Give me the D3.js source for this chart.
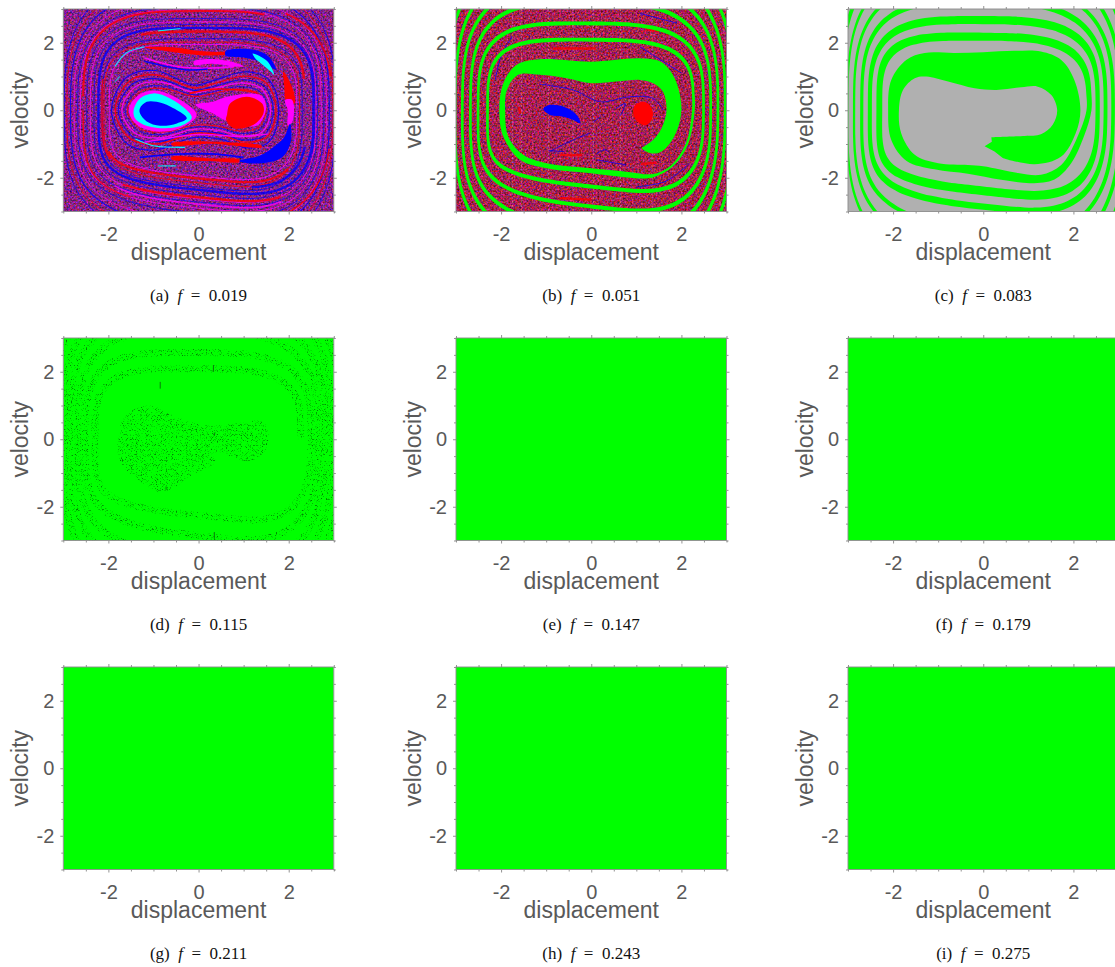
<!DOCTYPE html>
<html><head><meta charset="utf-8">
<script src="https://cdn.jsdelivr.net/npm/d3@7"></script>
<style>html,body{margin:0;padding:0;background:#fff;overflow:hidden}svg{display:block}</style>
</head><body><div id="chart"></div>
<script>
const panelLetters=["a","b","c","d","e","f","g","h","i"];
const forcing=["0.019","0.051","0.083","0.115","0.147","0.179","0.211","0.243","0.275"];
const majorTicks=[-2,0,2];
const minorTicks=[-3,-2.5,-1.5,-1,-0.5,0.5,1,1.5,2.5,3];
const GREEN="#00ff00",RED="#ff0000",BLUE="#0000ff",CYAN="#00ffff",MAG="#ff00ff",GRAY="#b0b0b0";

/* panel (c): first turn of the green spiral, edges */
const cOuter=[[0.44,-1.42],[1.14,-1.60],[1.73,-1.37],[2.05,-0.68],[2.155,0],[2.02,0.90],[1.73,1.49],[1.28,1.74],[0.69,1.76],[0,1.72],[-0.63,1.70],[-1.30,1.70],[-1.70,1.50],[-2.04,0.90],[-2.11,0],[-2.04,-0.88],[-1.70,-1.50],[-1.08,-1.75],[-0.34,-1.88],[0.40,-2.06],[1.06,-2.16],[1.58,-2.05],[1.95,-1.57],[2.24,-0.75]];
const cInner=[[0.18,-0.80],[0.92,-0.76],[1.28,-0.71],[1.54,-0.43],[1.64,0],[1.51,0.45],[1.21,0.70],[0.84,0.68],[0.29,0.60],[-0.19,0.65],[-0.78,0.85],[-1.26,1.0],[-1.52,0.95],[-1.78,0.60],[-1.87,0],[-1.82,-0.68],[-1.52,-1.32],[-1.0,-1.57],[-0.34,-1.62],[0,-1.66],[0.77,-1.86],[1.28,-1.91],[1.73,-1.62],[2.06,-0.88]];
const cTongueTip=[[0.18,-0.80],[0.19,-0.93],[0.03,-1.07],[0.25,-1.22],[0.44,-1.42]];
/* later turns: crossings of the spiral edges with y=0 (right, left, ...) and x=0 (bottom, top, ...) */
const cOuterX=[2.40,2.37,2.585,2.56,2.755,2.73,2.92,2.89,3.08,3.03,3.25,3.2];
const cOuterY=[1.88,2.30,2.52,2.79,2.95,3.3,3.6,3.75,4.3,4.3,4.9,4.8,5.3];
const cInnerX=[2.29,2.24,2.49,2.47,2.67,2.66,2.84,2.84,3.0,2.99,3.17,3.12];
const cInnerY=[1.66,2.06,2.26,2.55,2.76,3.13,3.5,3.65,4.2,4.2,4.8,4.7,5.2];
const cornerPower=[3.8,3.6,3.3,3.1,3,3,3];
const bottomTilt=0.14;

/* panel (b) */
const bInner=[[1.11,-1.12],[1.37,-0.88],[1.56,-0.53],[1.67,0],[1.59,0.55],[1.37,0.80],[1.08,0.90],[0.56,0.85],[0,0.80],[-0.55,0.95],[-1.14,1.05],[-1.62,1.05],[-1.87,0.60],[-1.91,0],[-1.84,-0.78],[-1.51,-1.32],[-0.99,-1.57],[0,-1.72],[0.78,-1.82],[1.37,-1.89],[1.74,-1.67],[2.1,-0.98]];
const bOuter=[[1.11,-1.12],[1.26,-1.25],[1.52,-1.25],[1.82,-0.83],[2.0,0],[1.85,0.95],[1.55,1.43],[1.07,1.54],[0,1.44],[-1.14,1.51],[-1.66,1.34],[-1.95,0.80],[-2.04,0],[-1.95,-0.78],[-1.58,-1.47],[-0.99,-1.72],[0,-1.87],[0.78,-1.99],[1.37,-1.99],[1.81,-1.67],[2.14,-1.03]];
const bCentreX=[2.265,2.30,2.49,2.51,2.65,2.68,2.81,2.86,2.97,3.02,3.15,3.2];
const bCentreY=[1.79,2.09,2.26,2.57,2.85,3.2,3.55,3.7,4.2,4.2,4.8,4.7,5.2];
const bBlueLobe=[[-1.06,0.06],[-0.91,0.16],[-0.62,0.11],[-0.32,-0.14],[-0.24,-0.39],[-0.4,-0.29],[-0.62,-0.19],[-0.91,-0.14],[-1.05,0]];
const bRedSpot=[[1.37,-0.09],[1.3,0.15],[1.15,0.25],[0.97,0.15],[0.93,-0.09],[1.0,-0.3],[1.2,-0.45],[1.33,-0.3]];
const bBlueArcs=[
 [[-1.13,0.77],[-0.4,0.6],[0.2,0.25],[0.85,0.4],[1.37,0.35],[1.6,0]],
 [[-0.92,-1.22],[-0.4,-0.88],[-0.03,-0.68]],
 [[0.12,-1.47],[0.78,-1.62]],
 [[0.1,-1.3],[0.3,-1.17],[0.4,-1.25]],
 [[-0.95,-1.2],[-0.6,-1.22]],
 [[1.0,-2.27],[1.66,-2.1],[2.18,-1.57]],
 [[-2.13,0.9],[-2.0,1.6],[-1.75,2.2]],
 [[1.08,2.87],[1.9,2.58]],
 [[1.08,1.88],[2.0,1.1]],
 [[0.55,0.05],[0.75,0.2],[0.65,-0.15]],
 [[0.05,-0.35],[0.2,-0.2]]];
const bRedSmudges=[[[-1.6,0.1],[-1.58,-0.1]],[[-0.7,-1.33],[-0.2,-1.33]],[[-1.43,-2.0],[-1.0,-2.1]],[[-0.7,-2.6],[0,-2.65]],[[-0.85,1.83],[0.1,1.83]],[[1.1,-1.6],[1.45,-1.55]],[[1.2,2.4],[1.5,2.35]]];
const bStreaks=[-1.75,-1.55,-0.95,-0.4,0.05,0.65,1.35,2.95];

/* panel (a) */
const aBlueLobe=[[-1.30,0.06],[-1.15,0.25],[-0.93,0.25],[-0.63,0.11],[-0.26,-0.24],[-0.48,-0.39],[-0.85,-0.46],[-1.15,-0.33],[-1.30,-0.09]];
const aCyanLobe=[[-1.44,0],[-1.30,0.35],[-1.0,0.50],[-0.63,0.35],[-0.26,0.0],[-0.15,-0.22],[-0.37,-0.45],[-0.85,-0.53],[-1.22,-0.43],[-1.41,-0.24]];
const aMagLobe=[[-1.55,0],[-1.33,0.45],[-0.93,0.58],[-0.41,0.31],[-0.04,-0.14],[-0.41,-0.53],[-0.93,-0.63],[-1.37,-0.43]];
const aRedLobe=[[0.63,-0.14],[0.70,0.20],[1.07,0.40],[1.41,0.20],[1.44,-0.09],[1.22,-0.43],[0.78,-0.53],[0.61,-0.28]];
const aMagWing=[[-0.07,0.16],[0.33,0.26],[0.70,0.42],[1.37,0.45],[1.5,0.1],[1.3,-0.45],[0.6,-0.3],[0.33,-0.1]];
const aSwooshes=[
 {c:RED, p:[[-1.2,1.87],[-0.5,1.86],[0.0,1.76],[0.5,1.73],[0.9,1.8],[0.9,1.72],[0.3,1.62],[-0.2,1.66],[-0.8,1.77]]},
 {c:BLUE,p:[[0.6,1.75],[1.2,1.8],[1.55,1.6],[1.72,1.2],[1.45,1.4],[1.05,1.55],[0.6,1.62]]},
 {c:MAG, p:[[-0.1,1.45],[0.3,1.52],[0.7,1.45],[1.0,1.3],[0.8,1.3],[0.3,1.38],[-0.1,1.35]]},
 {c:CYAN,p:[[1.2,1.68],[1.52,1.46],[1.68,1.05],[1.6,1.15],[1.42,1.35],[1.25,1.55]]},
 {c:RED, p:[[1.88,1.15],[2.1,0.6],[2.13,0.2],[1.95,0.25],[1.9,0.75]]},
 {c:MAG, p:[[1.92,0.3],[2.08,0.3],[2.08,-0.35],[1.98,-0.45],[1.98,0]]},
 {c:BLUE,p:[[2.03,-0.4],[2.05,-0.9],[1.85,-1.4],[1.3,-1.58],[0.9,-1.5],[1.35,-1.35],[1.7,-1.05],[1.9,-0.8]]},
 {c:RED, p:[[-0.6,-1.38],[0.3,-1.43],[0.9,-1.46],[0.9,-1.53],[0.3,-1.51],[-0.6,-1.45]]},
 {c:RED, p:[[-0.6,-0.98],[0.3,-0.93],[1.4,-1.05],[1.4,-1.1],[0.3,-0.99],[-0.6,-1.04]]}];
const peanutShape=[[1,0],[.88,.72],[.6,.92],[.2,.72],[-.05,.6],[-.5,.95],[-.82,.8],[-1,0],[-.82,-.8],[-.5,-.95],[-.05,-.65],[.3,-.7],[.6,-.9],[.88,-.75]];
// colour, width, extent left, right, top, bottom, corner power, from, to (degrees)
const aOuterRings=[
 [BLUE,1.0,2.98,3.04,3.9,3.9,3,0,360],[RED,0.9,2.92,2.98,3.7,3.7,3,0,360],[BLUE,1.2,2.84,2.9,3.5,3.5,3,0,360],
 [MAG,0.8,2.76,2.84,3.25,3.3,3.1,0,360],[BLUE,0.9,2.68,2.78,3.05,3.05,3.2,0,360],[MAG,0.9,2.62,2.72,2.97,2.9,3.3,0,360],
 [BLUE,0.8,2.48,2.64,2.72,2.72,3.5,0,360],[MAG,0.9,2.40,2.6,2.62,2.62,3.5,0,360],[BLUE,0.8,2.32,2.58,2.54,2.5,3.6,0,360],
 [BLUE,2.4,2.22,2.55,2.44,2.36,3.7,0,360],[BLUE,0.9,2.14,2.3,2.12,2.28,3.8,0,360],[RED,1,2.1,2.24,2.02,2.15,3.8,0,360],[MAG,1,1.98,2.18,1.95,1.95,3.8,0,360],
 [RED,2,2.56,2.75,2.94,2.9,3.4,70,180],[RED,1.4,2.56,2.75,2.94,2.9,3.4,180,250],[RED,2.4,2.14,2.36,2.33,2.1,3.8,10,112],[RED,1.6,2.14,2.36,2.33,2.1,3.8,170,215],
 [RED,2.2,2.1,2.3,2.1,2.02,3.8,205,320],[BLUE,2.4,2.2,2.4,2.3,2.16,3.8,285,345],[RED,2.2,2.5,2.7,2.8,2.58,3.5,240,300],[MAG,1.6,2.4,2.62,2.6,2.78,3.5,230,305],
 [RED,1.8,2.76,2.96,3.2,3.2,3,10,60],[RED,1.6,2.76,2.94,3.2,3.2,3,300,350]];
const aPeanutRings=[[BLUE,1.2,1.93,1.78,1.24,1.24],[RED,1.4,1.85,1.72,1.1,1.05],[BLUE,1.1,1.78,1.66,.98,.98],[MAG,1.4,1.7,1.6,.88,.86],[BLUE,.9,1.63,1.55,.76,.76],[RED,1,1.58,1.5,.68,.68]];
const aArcs=[
 {c:BLUE,w:1.8,p:[[-1.3,-1.4],[-0.5,-1.3],[0.4,-1.3],[1,-1.4]]},
 {c:CYAN,w:1.1,p:[[-1.4,-0.85],[-1.0,-1.05],[-0.3,-1.1]]},
 {c:CYAN,w:1.1,p:[[-1.85,1.3],[-1.6,1.7],[-1.2,1.88]]},
 {c:CYAN,w:1,p:[[-0.9,2.35],[-0.4,2.42]]},
 {c:CYAN,w:1,p:[[-1.85,0.85],[-1.75,1.0]]},
 {c:CYAN,w:1,p:[[-0.9,-1.65],[-0.5,-1.65]]},
 {c:MAG,w:1.6,p:[[-1.2,1.55],[-0.4,1.28],[0.3,1.25],[0.8,1.3]]},
 {c:BLUE,w:1.5,p:[[-1.2,1.45],[-0.3,1.2],[0.2,1.22]]},
 {c:MAG,w:1.5,p:[[-1.2,-0.95],[0,-0.72],[1,-0.78],[1.55,-0.7]]},
 {c:RED,w:1.6,p:[[-0.2,0.5],[0.3,0.62],[0.9,0.6],[1.3,0.52]]}
];

/* panel (d) */
const dBlob=[[-1.8,-0.2],[-1.62,0.7],[-1.08,1.0],[-0.48,0.65],[0.25,0.4],[1.44,0.5],[1.55,0.1],[1.44,-0.4],[1.07,-0.65],[0.4,-0.4],[0.35,-0.7],[-0.05,-1.0],[-0.85,-1.57],[-1.35,-1.2],[-1.7,-0.75]];
const dMarks=[[0.35,0.1,0.2],[-0.85,1.5,1.7],[0.33,2.0,2.2],[0.35,-2.95,-2.75],[-0.72,-1.5,-1.4]];

const W=270.5,H=202.5;
const lefts=[63.3,456,848],tops=[9,338,667];

/* rounded curve through the read crossings */
function lerpKeys(k,u){const i=Math.min(Math.floor(u),k.length-2);return k[i]+(k[i+1]-k[i])*(u-i);}
function rounded(A,B,N,t){
 const c=Math.cos(t),s=Math.sin(t),e=2/N;
 const X=A*Math.sign(c)*Math.pow(Math.abs(c),e);
 let Y=B*Math.sign(s)*Math.pow(Math.abs(s),e);
 if(s<0)Y-=bottomTilt*X*s*s;
 return [X,Y];
}
function spiralEdge(xK,yK,dx,dy){
 const pts=[],end=(xK.length-1)*Math.PI;
 for(let t=0;t<=end+1e-6;t+=Math.PI/36){
  const A=lerpKeys(xK,t/Math.PI)+dx,B=lerpKeys(yK,(t+Math.PI/2)/Math.PI)+dy,N=lerpKeys(cornerPower,t/(2*Math.PI));
  pts.push(rounded(A,B,N,t));
 }
 return pts;
}
function ringArc(r){
 const pts=[];
 for(let d=r[7];d<=r[8]+1e-6;d+=6){
  const t=d*Math.PI/180;
  pts.push(rounded(Math.cos(t)>=0?r[3]:r[2],Math.sin(t)>=0?r[4]:r[5],r[6],t));
 }
 return pts;
}

const svg=d3.select("#chart").append("svg").attr("width",1115).attr("height",967).attr("viewBox","0 0 1115 967");
const defs=svg.append("defs");
function noiseFilter(id,seed,m){
 const f=defs.append("filter").attr("id",id).attr("x",0).attr("y",0).attr("width","100%").attr("height","100%").attr("color-interpolation-filters","sRGB");
 f.append("feTurbulence").attr("type","fractalNoise").attr("baseFrequency",0.55).attr("numOctaves",2).attr("seed",seed);
 f.append("feColorMatrix").attr("type","matrix").attr("values",m);
}
noiseFilter("noiseA",4,"1.2 0 0 0 -0.06  0 0.5 0 0 -0.12  0 0 1.3 0 -0.12  0 0 0 0 1");
noiseFilter("noiseB",9,"1.2 0 0 0 0.05  0 0.5 0 0 -0.12  0 0 1.2 0 -0.28  0 0 0 0 1");
const dots=defs.append("filter").attr("id","dots").attr("x",0).attr("y",0).attr("width","100%").attr("height","100%").attr("color-interpolation-filters","sRGB");
dots.append("feTurbulence").attr("type","fractalNoise").attr("baseFrequency",1.2).attr("numOctaves",1).attr("seed",6).attr("result","n");
dots.append("feColorMatrix").attr("in","n").attr("type","matrix").attr("values","0 0 0 0 0  0 0 0 0 0.5  0 0 0 0 0  5 0 0 0 -2.8").attr("result","d");
dots.append("feComposite").attr("in","d").attr("in2","SourceAlpha").attr("operator","in").attr("result","c");
dots.append("feGaussianBlur").attr("in","c").attr("stdDeviation",0.3);
defs.append("filter").attr("id","soft").attr("x",0).attr("y",0).attr("width","100%").attr("height","100%").append("feGaussianBlur").attr("stdDeviation",0.4);

function drawPanel(i){
 const col=i%3,row=Math.floor(i/3);
 const x=d3.scaleLinear().domain([-3,3]).range([0,W]);
 const y=d3.scaleLinear().domain([-3,3]).range([H,0]);
 const g=svg.append("g").attr("transform",`translate(${lefts[col]},${tops[row]})`);
 const clipId="clip"+i;
 defs.append("clipPath").attr("id",clipId).append("rect").attr("width",W).attr("height",H);
 const line=d3.line().x(d=>x(d[0])).y(d=>y(d[1])).curve(d3.curveCatmullRom.alpha(0.5));
 const loop=d3.line().x(d=>x(d[0])).y(d=>y(d[1])).curve(d3.curveCatmullRomClosed.alpha(0.5));
 const straight=d3.line().x(d=>x(d[0])).y(d=>y(d[1]));
 const plot=g.append("g").attr("clip-path",`url(#${clipId})`);
 const art=plot.append("g");
 const stroke=(p,c,w,o)=>art.append("path").attr("d",line(p)).attr("fill","none").attr("stroke",c).attr("stroke-width",w).attr("opacity",o==null?1:o);
 const fillLoop=(p,c)=>art.append("path").attr("d",loop(p)).attr("fill",c);
 const peanut=r=>loop(peanutShape.map(d=>[d[0]*(d[0]>0?r[3]:r[2]),d[1]*(d[1]>0?r[4]:r[5])]));
 if(i===0){
  art.append("rect").attr("width",W).attr("height",H).attr("filter","url(#noiseA)");
  art.attr("filter","url(#soft)");
  aOuterRings.forEach(r=>stroke(ringArc(r),r[0],r[1],.8));
  aPeanutRings.forEach(r=>art.append("path").attr("d",peanut(r)).attr("fill","none").attr("stroke",r[0]).attr("stroke-width",r[1]).attr("opacity",.85));
  aArcs.forEach(r=>stroke(r.p,r.c,r.w,.95));
  aSwooshes.forEach(s=>fillLoop(s.p,s.c));
  fillLoop(aMagLobe,MAG);fillLoop(aCyanLobe,CYAN);fillLoop(aBlueLobe,BLUE);
  fillLoop(aMagWing,MAG);fillLoop(aRedLobe,RED);
 } else if(i===1){
  art.append("rect").attr("width",W).attr("height",H).attr("filter","url(#noiseB)");
  art.attr("filter","url(#soft)");
  bStreaks.forEach(v=>art.append("line").attr("x1",x(v)).attr("x2",x(v)).attr("y1",0).attr("y2",H).attr("stroke","#d8c8d8").attr("stroke-width",1).attr("stroke-dasharray","2 2").attr("opacity",.35));
  bRedSmudges.forEach(p=>stroke(p,RED,2.4,.8));
  bBlueArcs.forEach(p=>stroke(p,BLUE,.9,.85));
  fillLoop(bBlueLobe,BLUE);fillLoop(bRedSpot,RED);
  const out=bOuter.concat(spiralEdge(bCentreX,bCentreY,0.03,0.058));
  const inn=bInner.concat(spiralEdge(bCentreX,bCentreY,-0.03,-0.058)).reverse();
  art.append("path").attr("d",line(out)+"L"+line(inn).slice(1)+"Z").attr("fill",GREEN);
 } else if(i===2){
  art.append("rect").attr("width",W).attr("height",H).attr("fill",GRAY);
  const out=cOuter.concat(spiralEdge(cOuterX,cOuterY,0,0));
  const inn=cInner.concat(spiralEdge(cInnerX,cInnerY,0,0)).reverse();
  art.append("path").attr("d",line(out)+"L"+line(inn).slice(1)+"L"+straight(cTongueTip).slice(1)+"Z").attr("fill",GREEN);
 } else {
  art.append("rect").attr("width",W).attr("height",H).attr("fill",GREEN);
  if(i===3){
   const sp=plot.append("g").attr("filter","url(#dots)");
   sp.append("path").attr("d",loop(dBlob)).attr("fill","#000");
   sp.append("path").attr("d",line(spiralEdge(bCentreX,bCentreY,0,0))).attr("fill","none").attr("stroke","#000").attr("stroke-width",7);
   dMarks.forEach(m=>plot.append("line").attr("x1",x(m[0])).attr("x2",x(m[0])).attr("y1",y(m[1])).attr("y2",y(m[2])).attr("stroke","#0a7a0a").attr("stroke-width",1));
  }
 }
 // axes
 const axisStyle=(a)=>{a.select(".domain").attr("stroke","none");a.selectAll("line").attr("stroke","#777").attr("stroke-width",.8);a.selectAll("text").attr("fill","#595959").attr("font-family","'Liberation Sans',Arial,sans-serif").attr("font-size",20);};
 const fmt=d=>String(d);
 const put=(gen,tr,vals,size,pad)=>{const a=g.append("g").attr("transform",tr).call(gen.tickValues(vals).tickSize(size).tickPadding(pad).tickFormat(fmt));axisStyle(a);return a;};
 put(d3.axisBottom(x),`translate(0,${H})`,majorTicks,3,12);
 put(d3.axisBottom(x),`translate(0,${H})`,minorTicks,2,0).selectAll("text").remove();
 put(d3.axisTop(x),"translate(0,0)",majorTicks,3,0).selectAll("text").remove();
 put(d3.axisTop(x),"translate(0,0)",minorTicks,2,0).selectAll("text").remove();
 put(d3.axisLeft(y),"translate(0,0)",majorTicks,3,6);
 put(d3.axisLeft(y),"translate(0,0)",minorTicks,2,0).selectAll("text").remove();
 put(d3.axisRight(y),`translate(${W},0)`,majorTicks,3,0).selectAll("text").remove();
 put(d3.axisRight(y),`translate(${W},0)`,minorTicks,2,0).selectAll("text").remove();
 g.append("rect").attr("width",W).attr("height",H).attr("fill","none").attr("stroke","#8c8c8c").attr("stroke-width",.9);
 const lab=(s)=>s.attr("fill","#595959").attr("font-family","'Liberation Sans',Arial,sans-serif").attr("font-size",23).attr("text-anchor","middle");
 lab(g.append("text").attr("x",W/2).attr("y",H+48.5)).text("displacement");
 lab(g.append("text").attr("transform",`translate(-35.5,${H/2}) rotate(-90)`)).text("velocity");
 const cap=g.append("text").attr("x",W/2).attr("y",H+89).attr("text-anchor","middle").attr("font-family","'Liberation Serif','Times New Roman',serif").attr("font-size",17).attr("fill","#111").attr("xml:space","preserve");
 cap.append("tspan").text(`(${panelLetters[i]})\u2002`);
 cap.append("tspan").attr("font-style","italic").text("f");
 cap.append("tspan").text(`\u2002=\u2002${forcing[i]}`);
}
d3.range(9).forEach(drawPanel);
</script></body></html>
